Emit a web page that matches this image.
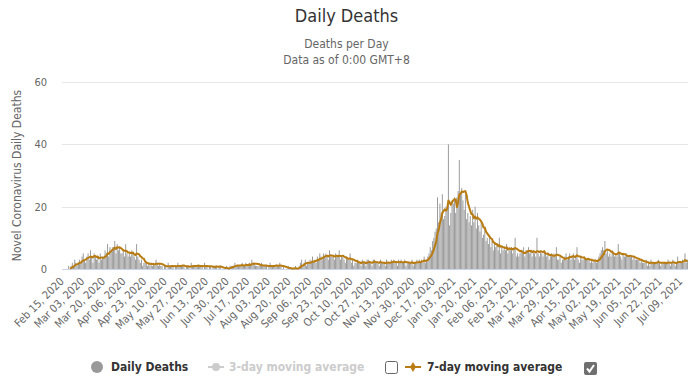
<!DOCTYPE html>
<html lang="en">
  <head>
    <meta charset="UTF-8" />
    <title>Daily Deaths</title>
    <script src="https://cdn.jsdelivr.net/npm/d3@7"></script>
    <style>
      body { margin: 0; background: #fff; }
      text { font-family: "DejaVu Sans Condensed", "DejaVu Sans", sans-serif; }
    </style>
  </head>
  <body>
    <div id="chart"></div>
    <script>
      // one value per day, starting Feb 15, 2020 (rows are weeks)
      const dailyDeaths = [
        0, 0, 0, 0, 0, 1, 0,
        1, 2, 1, 3, 2, 1, 2,
        3, 2, 4, 5, 3, 2, 4,
        5, 3, 6, 4, 2, 5, 4,
        3, 4, 2, 5, 3, 4, 4,
        6, 5, 8, 4, 7, 6, 7,
        7, 9, 5, 8, 6, 7, 5,
        5, 6, 4, 8, 5, 4, 5,
        4, 6, 5, 4, 3, 8, 4,
        3, 2, 3, 1, 2, 2, 2,
        1, 2, 1, 2, 1, 2, 1,
        3, 2, 1, 2, 1, 1, 0,
        1, 1, 0, 2, 1, 1, 1,
        1, 0, 1, 1, 2, 1, 1,
        1, 1, 1, 0, 1, 1, 1,
        0, 2, 1, 1, 1, 1, 1,
        1, 1, 1, 1, 0, 2, 1,
        1, 0, 1, 1, 0, 1, 1,
        1, 1, 0, 1, 1, 0, 0,
        0, 0, 1, 0, 0, 1, 1,
        1, 1, 2, 1, 1, 1, 1,
        1, 2, 1, 1, 2, 1, 1,
        2, 1, 3, 2, 2, 1, 1,
        1, 1, 1, 2, 1, 1, 1,
        1, 0, 1, 2, 1, 1, 1,
        1, 1, 1, 1, 2, 1, 0,
        1, 0, 0, 0, 1, 0, 0,
        0, 0, 0, 1, 0, 0, 1,
        2, 3, 1, 2, 3, 1, 2,
        2, 3, 2, 4, 2, 3, 2,
        4, 3, 5, 4, 3, 5, 4,
        5, 4, 3, 6, 4, 4, 4,
        3, 5, 4, 4, 6, 3, 4,
        4, 3, 2, 4, 3, 3, 5,
        2, 3, 1, 2, 2, 3, 2,
        2, 1, 3, 2, 2, 1, 3,
        3, 2, 2, 1, 3, 3, 2,
        2, 2, 1, 3, 2, 2, 2,
        1, 3, 2, 2, 2, 3, 2,
        3, 2, 2, 1, 3, 2, 3,
        2, 2, 3, 1, 2, 2, 2,
        2, 3, 1, 2, 2, 3, 2,
        3, 2, 3, 2, 4, 2, 3,
        4, 5, 7, 6, 9, 10, 12,
        13, 23, 15, 21, 18, 24, 16,
        17, 20, 19, 40, 14, 18, 22,
        21, 23, 18, 23, 25, 35, 24,
        26, 22, 19, 24, 16, 18, 15,
        17, 14, 19, 15, 20, 13, 18,
        14, 12, 15, 10, 11, 13, 9,
        10, 8, 11, 7, 9, 6, 8,
        7, 8, 6, 10, 5, 7, 6,
        7, 6, 8, 5, 7, 6, 7,
        5, 7, 10, 4, 5, 4, 5,
        6, 5, 7, 4, 6, 6, 7,
        5, 6, 4, 6, 5, 4, 10,
        5, 4, 6, 5, 4, 6, 5,
        4, 5, 3, 4, 5, 4, 5,
        4, 7, 3, 3, 4, 2, 3,
        3, 4, 5, 3, 4, 5, 3,
        4, 5, 3, 4, 7, 3, 2,
        4, 3, 3, 4, 3, 3, 3,
        3, 2, 3, 2, 3, 3, 2,
        3, 4, 5, 6, 7, 6, 9,
        5, 6, 4, 5, 4, 6, 5,
        4, 5, 4, 8, 5, 4, 3,
        5, 4, 4, 5, 4, 4, 4,
        4, 3, 4, 3, 3, 3, 3,
        2, 3, 2, 2, 2, 3, 1,
        2, 1, 3, 2, 2, 2, 2,
        2, 3, 2, 1, 2, 2, 2,
        2, 2, 3, 2, 1, 2, 3,
        2, 1, 2, 4, 2, 2, 2,
        3, 2, 5, 2, 3,
      ];

      const tickLabels = [
        "Feb 15, 2020", "Mar 03, 2020", "Mar 20, 2020", "Apr 06, 2020",
        "Apr 23, 2020", "May 10, 2020", "May 27, 2020", "Jun 13, 2020",
        "Jun 30, 2020", "Jul 17, 2020", "Aug 03, 2020", "Aug 20, 2020",
        "Sep 06, 2020", "Sep 23, 2020", "Oct 10, 2020", "Oct 27, 2020",
        "Nov 13, 2020", "Nov 30, 2020", "Dec 17, 2020", "Jan 03, 2021",
        "Jan 20, 2021", "Feb 06, 2021", "Feb 23, 2021", "Mar 12, 2021",
        "Mar 29, 2021", "Apr 15, 2021", "May 02, 2021", "May 19, 2021",
        "Jun 05, 2021", "Jun 22, 2021", "Jul 09, 2021",
      ];
      const tickEvery = 17;
      const yTicks = [0, 20, 40, 60];

      // 7-day trailing average
      const movingAvg = dailyDeaths
        .map((v, i) =>
          i < 6 ? null : { i: i, v: d3.mean(dailyDeaths.slice(i - 6, i + 1)) }
        )
        .filter((d) => d);

      const width = 693,
        height = 380;
      const margin = { top: 82, right: 5, bottom: 111, left: 62 };

      const svg = d3
        .select("#chart")
        .append("svg")
        .attr("width", width)
        .attr("height", height);

      const x = d3
        .scaleBand()
        .domain(d3.range(dailyDeaths.length))
        .range([margin.left, width - margin.right])
        .paddingInner(0.2)
        .paddingOuter(0.1);

      const y = d3
        .scaleLinear()
        .domain([0, 60])
        .range([height - margin.bottom, margin.top]);

      // title + subtitle
      svg.append("text")
        .attr("x", width / 2).attr("y", 22)
        .attr("text-anchor", "middle")
        .attr("font-size", 18).attr("fill", "#333")
        .text("Daily Deaths");
      svg.append("text")
        .attr("x", width / 2).attr("y", 48)
        .attr("text-anchor", "middle")
        .attr("font-size", 12).attr("fill", "#666")
        .text("Deaths per Day");
      svg.append("text")
        .attr("x", width / 2).attr("y", 64)
        .attr("text-anchor", "middle")
        .attr("font-size", 12).attr("fill", "#666")
        .text("Data as of 0:00 GMT+8");

      // grid lines and y labels
      svg.append("g")
        .selectAll("line")
        .data(yTicks.filter((t) => t > 0))
        .enter()
        .append("line")
        .attr("x1", margin.left).attr("x2", width - margin.right)
        .attr("y1", (d) => Math.round(y(d)) + 0.5)
        .attr("y2", (d) => Math.round(y(d)) + 0.5)
        .attr("stroke", "#e6e6e6");

      svg.append("g")
        .selectAll("text")
        .data(yTicks)
        .enter()
        .append("text")
        .attr("x", 47)
        .attr("y", (d) => y(d) + 4)
        .attr("text-anchor", "end")
        .attr("font-size", 11).attr("fill", "#666")
        .text((d) => d);

      svg.append("text")
        .attr("transform", `translate(21,${(y(0) + y(60)) / 2}) rotate(-90)`)
        .attr("text-anchor", "middle")
        .attr("font-size", 12).attr("fill", "#666")
        .text("Novel Coronavirus Daily Deaths");

      // bars
      svg.append("g")
        .selectAll("rect")
        .data(dailyDeaths)
        .enter()
        .append("rect")
        .attr("x", (d, i) => x(i))
        .attr("y", (d) => y(d))
        .attr("width", x.bandwidth())
        .attr("height", (d) => y(0) - y(d))
        .attr("fill", "#999");

      // x axis line
      svg.append("line")
        .attr("x1", margin.left).attr("x2", width - margin.right)
        .attr("y1", Math.round(y(0)) + 0.5).attr("y2", Math.round(y(0)) + 0.5)
        .attr("stroke", "#ccd6eb");

      // moving average line
      const line = d3
        .line()
        .x((d) => x(d.i) + x.bandwidth() / 2)
        .y((d) => y(d.v));

      svg.append("path")
        .datum(movingAvg)
        .attr("d", line)
        .attr("fill", "none")
        .attr("stroke", "#b97c12")
        .attr("stroke-width", 2)
        .attr("stroke-linejoin", "round");

      // x labels, rotated
      svg.append("g")
        .selectAll("text")
        .data(tickLabels)
        .enter()
        .append("text")
        .attr("transform", (d, i) =>
          `translate(${x(i * tickEvery) + x.bandwidth() / 2 + 2},${y(0) + 13}) rotate(-45)`
        )
        .attr("text-anchor", "end")
        .attr("font-size", 11).attr("fill", "#666")
        .text((d) => d);

      // legend
      const ly = 367;
      const legend = svg.append("g").attr("font-size", 12).attr("font-weight", "bold");

      legend.append("circle").attr("cx", 97).attr("cy", ly).attr("r", 6).attr("fill", "#999");
      legend.append("text").attr("x", 111).attr("y", ly + 4).attr("fill", "#333").text("Daily Deaths");

      legend.append("line").attr("x1", 208).attr("x2", 224).attr("y1", ly).attr("y2", ly)
        .attr("stroke", "#ccc").attr("stroke-width", 2);
      legend.append("circle").attr("cx", 216).attr("cy", ly).attr("r", 4).attr("fill", "#ccc");
      legend.append("text").attr("x", 229).attr("y", ly + 4).attr("fill", "#ccc").text("3-day moving average");

      legend.append("rect").attr("x", 385.5).attr("y", ly - 5.5).attr("width", 12).attr("height", 12)
        .attr("rx", 2).attr("fill", "#fff").attr("stroke", "#666");

      legend.append("line").attr("x1", 405).attr("x2", 421).attr("y1", ly).attr("y2", ly)
        .attr("stroke", "#b97c12").attr("stroke-width", 2);
      legend.append("path")
        .attr("d", d3.symbol().type(d3.symbolDiamond).size(30))
        .attr("transform", `translate(413,${ly})`)
        .attr("fill", "#b97c12");
      legend.append("text").attr("x", 427).attr("y", ly + 4).attr("fill", "#333").text("7-day moving average");

      legend.append("rect").attr("x", 584).attr("y", ly - 5).attr("width", 13).attr("height", 13)
        .attr("rx", 2).attr("fill", "#6f6f6f");
      legend.append("path")
        .attr("d", `M587,${ly + 1.5} L589.5,${ly + 4.5} L594,${ly - 2}`)
        .attr("fill", "none").attr("stroke", "#fff").attr("stroke-width", 2);
    </script>
  </body>
</html>
